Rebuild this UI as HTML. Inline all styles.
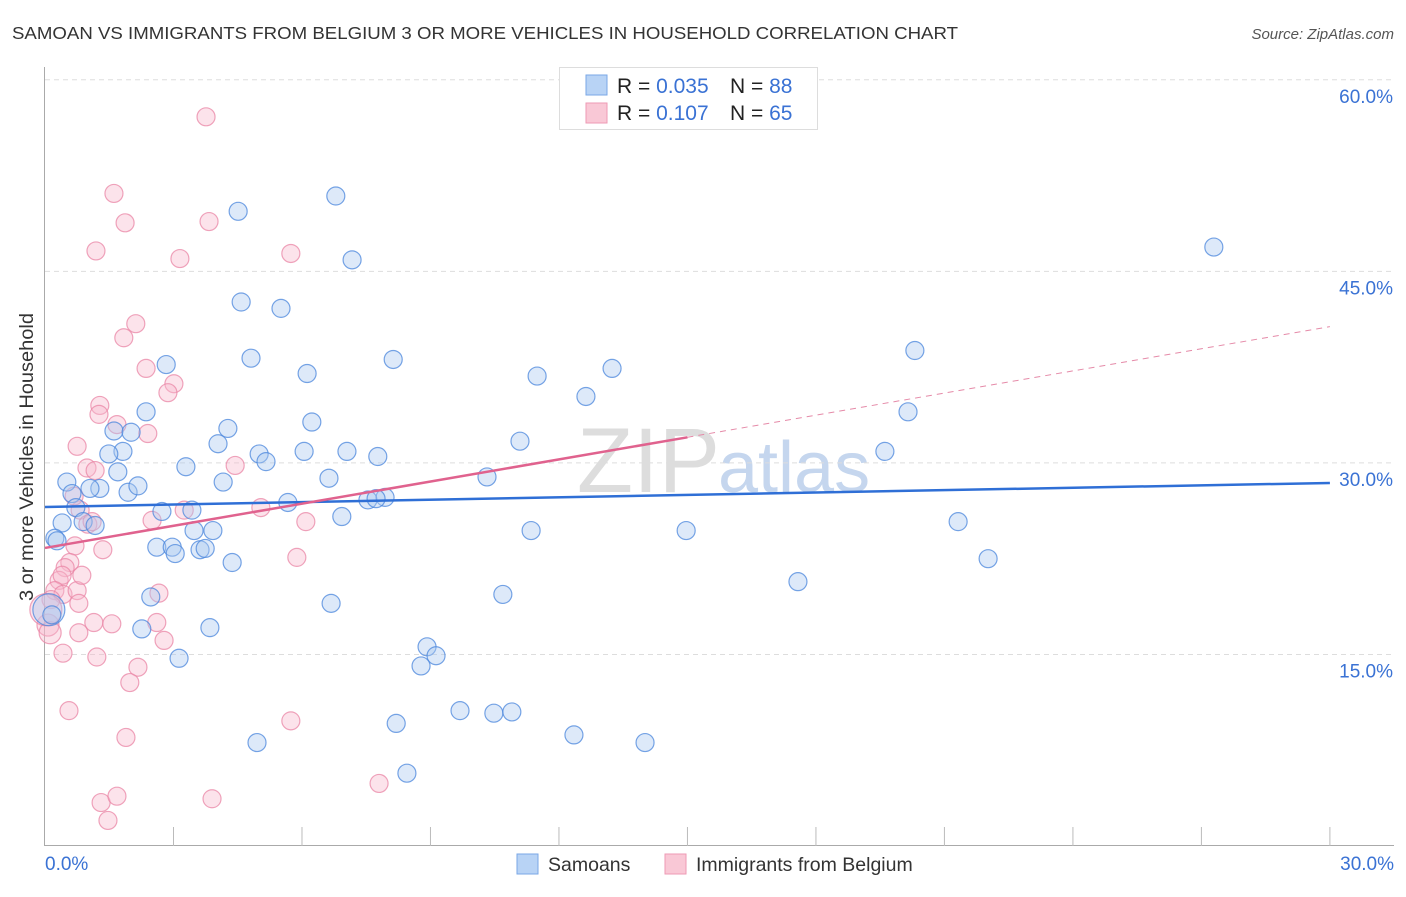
<!DOCTYPE html>
<html><head><meta charset="utf-8"><style>
body{margin:0;background:#fff;font-family:"Liberation Sans",sans-serif;}
svg text{font-family:"Liberation Sans",sans-serif;}
</style></head><body>
<svg id="chart" width="1406" height="892" xmlns="http://www.w3.org/2000/svg">
<text x="12" y="39" font-size="17.5" fill="#333" textLength="946" lengthAdjust="spacingAndGlyphs">SAMOAN VS IMMIGRANTS FROM BELGIUM 3 OR MORE VEHICLES IN HOUSEHOLD CORRELATION CHART</text>
<text x="1394" y="39" font-size="15" fill="#555" font-style="italic" text-anchor="end">Source: ZipAtlas.com</text>
<text x="0" y="0" transform="translate(33,457) rotate(-90)" font-size="19" fill="#333" text-anchor="middle" textLength="288" lengthAdjust="spacingAndGlyphs">3 or more Vehicles in Household</text>
<text x="720" y="492" font-size="92" fill="#ddd" text-anchor="end" font-family="Liberation Serif">ZIP</text>
<text x="718" y="492" font-size="72" fill="#c5d6ee">atlas</text>
<g id="grid"></g>
<g id="axes"></g>
<g id="pts"></g>
<g id="lines"></g>
<g>
<rect x="559.5" y="67.5" width="258" height="62" fill="#fff" stroke="#ddd"/>
<rect x="586" y="75" width="21" height="20" fill="#b8d3f5" stroke="#7aa7e6"/>
<rect x="586" y="103" width="21" height="20" fill="#f9c8d6" stroke="#ee9ab4"/>
<text x="617" y="93" font-size="21" fill="#222">R = <tspan fill="#3a72d4">0.035</tspan></text>
<text x="730" y="93" font-size="21" fill="#222">N = <tspan fill="#3a72d4">88</tspan></text>
<text x="617" y="120" font-size="21" fill="#222">R =  <tspan fill="#3a72d4">0.107</tspan></text>
<text x="730" y="120" font-size="21" fill="#222">N = <tspan fill="#3a72d4">65</tspan></text>
</g>
<g>
<rect x="517" y="854" width="21" height="20" fill="#b8d3f5" stroke="#7aa7e6"/>
<text x="548" y="871" font-size="19.5" fill="#333">Samoans</text>
<rect x="665" y="854" width="21" height="20" fill="#f9c8d6" stroke="#ee9ab4"/>
<text x="696" y="871" font-size="19.5" fill="#333">Immigrants from Belgium</text>
</g>
</svg>
<script>
const yTicks=[15,30,45,60];
const yTickLabels=["15.0%","30.0%","45.0%","60.0%"];
const xTickLabels=["0.0%","30.0%"];
const blueX=[4.51,6.79,7.17,27.29,4.58,5.51,4.81,2.83,8.13,6.12,11.49,13.24,12.63,20.31,20.15,2.36,4.27,1.61,2.01,6.23,4.04,5.00,5.16,6.05,7.05,7.77,11.09,1.82,1.49,3.29,1.70,0.51,0.63,1.28,1.05,1.94,2.17,4.16,10.32,6.63,5.67,7.54,7.94,7.73,0.40,0.72,0.89,1.17,2.73,3.43,3.48,3.92,6.93,11.35,14.97,19.61,21.32,22.02,17.58,0.23,0.28,2.61,2.97,3.04,3.62,3.74,4.37,6.68,10.69,2.47,2.26,3.85,3.13,8.92,9.13,8.78,8.20,9.69,10.48,10.90,12.35,14.01,4.95,8.45,0.09,0.16];
const blueY=[49.7,50.9,45.9,46.9,42.6,42.1,38.2,37.7,38.1,37.0,36.8,37.4,35.2,38.8,34.0,34.0,32.7,32.5,32.4,33.2,31.5,30.7,30.1,30.9,30.9,30.5,31.7,30.9,30.7,29.7,29.3,28.5,27.6,28.0,28.0,27.7,28.2,28.5,28.9,28.8,26.9,27.1,27.3,27.2,25.3,26.5,25.4,25.1,26.2,26.3,24.7,24.7,25.8,24.7,24.7,30.9,25.4,22.5,20.7,24.1,23.9,23.4,23.4,22.9,23.2,23.3,22.2,19.0,19.7,19.5,17.0,17.1,14.7,15.6,14.9,14.1,9.6,10.6,10.4,10.5,8.7,8.1,8.1,5.7,18.5,18.1];
const blueR=blueX.map((v,i)=>i===84?16:9);
const pinkX=[3.76,1.61,1.87,3.83,1.19,3.15,5.74,2.12,1.84,2.36,3.01,2.87,1.28,1.26,1.68,2.40,0.75,0.98,1.17,4.44,3.25,2.50,6.09,0.82,1.00,1.10,0.70,0.58,1.35,5.04,5.88,0.47,0.33,0.40,0.23,0.42,0.75,0.14,0.86,0.79,2.66,1.14,1.56,0.07,0.12,0.79,2.61,2.78,2.17,1.98,1.21,0.42,0.56,1.89,5.74,7.80,1.31,1.68,3.90,1.47,0.02,0.68];
const pinkY=[57.1,51.1,48.8,48.9,46.6,46.0,46.4,40.9,39.8,37.4,36.2,35.5,34.5,33.8,33.0,32.3,31.3,29.6,29.4,29.8,26.3,25.5,25.4,26.3,25.2,25.4,23.5,22.2,23.2,26.5,22.6,21.8,20.8,21.2,20.0,19.7,20.0,19.3,21.2,19.0,19.8,17.5,17.4,17.3,16.7,16.7,17.5,16.1,14.0,12.8,14.8,15.1,10.6,8.5,9.8,4.9,3.4,3.9,3.7,2.0,18.5,27.4];
const pinkR=pinkX.map((v,i)=>i===60?16:(i===43||i===44?11:9));
const blueFit=[26.55,28.43];
const pinkFit=[23.34,40.67];
const pinkSolidEnd=15;

const X=v=>45+v*42.83, Y=v=>846-v*12.77;
const NS="http://www.w3.org/2000/svg";
function mk(tag,attrs,parent){const e=document.createElementNS(NS,tag);for(const k in attrs)e.setAttribute(k,attrs[k]);parent.appendChild(e);return e;}
const grid=document.getElementById('grid'),axes=document.getElementById('axes'),pts=document.getElementById('pts'),lines=document.getElementById('lines');
yTicks.forEach((t,i)=>{
  const l=mk('line',{x1:45,x2:1394,y1:Y(t),y2:Y(t),stroke:'#ddd','stroke-dasharray':'5,4'},grid);
  
  
  const tx=mk('text',{x:1393,y:Y(t)+23,'font-size':19,fill:'#3a72d4','text-anchor':'end'},grid);
  tx.textContent=yTickLabels[i];
  
  
});
const ya=mk('line',{x1:44.5,x2:44.5,y1:67,y2:846,stroke:'#aaa'},axes);


const xa=mk('line',{x1:44,x2:1394,y1:845.5,y2:845.5,stroke:'#aaa'},axes);


for(let k=1;k<=10;k++){
  const t=mk('line',{x1:X(k*3),x2:X(k*3),y1:827,y2:846,stroke:'#bbb'},axes);
  
  
}
[[0,'start',45],[30,'end',1394]].forEach((d,i)=>{
  const t=mk('text',{x:d[2],y:870,'font-size':19,fill:'#3a72d4','text-anchor':d[1]},axes);
  t.textContent=xTickLabels[i];
  
  
});
function drawPts(xs,ys,rs,fill,stroke,name){
  xs.forEach((x,i)=>{
    const c=mk('circle',{cx:X(x),cy:Y(ys[i]),r:rs[i],fill:fill,'fill-opacity':0.4,stroke:stroke,'stroke-opacity':0.75,'stroke-width':1.2},pts);
    
    
  });
}
drawPts(pinkX,pinkY,pinkR,'#f7b9cc','#ea85a6','point-belgium');
drawPts(blueX,blueY,blueR,'#a9c8f0','#4a86dc','point-samoan');
const bl=mk('line',{x1:X(0),y1:Y(blueFit[0]),x2:X(30),y2:Y(blueFit[1]),stroke:'#2f6fd6','stroke-width':2.5},lines);


const pAt=x=>pinkFit[0]+(pinkFit[1]-pinkFit[0])*x/30;
const pl=mk('line',{x1:X(0),y1:Y(pAt(0)),x2:X(pinkSolidEnd),y2:Y(pAt(pinkSolidEnd)),stroke:'#e0628e','stroke-width':2.5},lines);


const pd=mk('line',{x1:X(pinkSolidEnd),y1:Y(pAt(pinkSolidEnd)),x2:X(30),y2:Y(pAt(30)),stroke:'#e58aa8','stroke-width':1,'stroke-dasharray':'6,5'},lines);


</script>
</body></html>
